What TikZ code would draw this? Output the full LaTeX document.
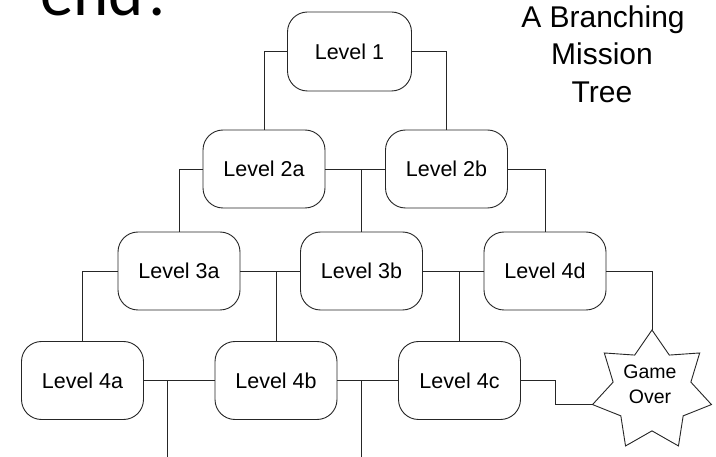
\documentclass[tikz,border=0pt]{standalone}
\usepackage{fontspec}
\setmainfont{Liberation Sans}
\newfontfamily\carlitofont{Carlito}
\usetikzlibrary{shapes.geometric}
\tikzset{
  lvlbox/.style={draw=black!85, line width=0.9pt, rounded corners=20pt, minimum width=122pt, minimum height=78pt, inner sep=0pt, outer sep=0pt, font=\fontsize{21.5}{24}\selectfont},
  conn/.style={draw=black!85, line width=0.9pt},
  starbox/.style={draw=black!85, line width=0.9pt, shape=star, star points=7, star point ratio=1.53, minimum size=122pt, inner sep=0pt, outer sep=0pt},
  titletext/.style={anchor=base, inner sep=0pt, font=\fontsize{30}{37}\selectfont},
}
\begin{document}
\begin{tikzpicture}[x=1pt,y=-1pt]
\useasboundingbox (0,0) rectangle (716,457);
\clip (0,0) rectangle (716,457);
\fill[white] (0,0) rectangle (716,457);

% cut-off heading
\node[anchor=base west, inner sep=0pt, font=\carlitofont\fontsize{67}{67}\selectfont] (endq) at (40,16) {end?};

% title
\node[titletext] (t1) at (603,28) {A Branching};
\node[titletext] (t2) at (602,65) {Mission};
\node[titletext] (t3) at (602,103) {Tree};

% level boxes
\node[lvlbox, minimum width=124pt, minimum height=79pt] (l1) at (349.5,51.5) {Level 1};
\node[lvlbox] (l2a) at (264,169) {Level 2a};
\node[lvlbox] (l2b) at (446.5,169) {Level 2b};
\node[lvlbox] (l3a) at (179,271) {Level 3a};
\node[lvlbox] (l3b) at (361.5,271) {Level 3b};
\node[lvlbox] (l4d) at (545,271) {Level 4d};
\node[lvlbox] (l4a) at (82.5,380.5) {Level 4a};
\node[lvlbox] (l4b) at (276,380.5) {Level 4b};
\node[lvlbox] (l4c) at (459.5,380.5) {Level 4c};

% game over star
\node[starbox] (go) at (652,391) {};
\node[inner sep=0pt, align=center, font=\fontsize{19.5}{25}\selectfont] (gotext) at (650,384) {Game\\Over};

% free ends at bottom
\coordinate (b1) at (167,460);
\coordinate (b2) at (361,460);

% connectors
\draw[conn] (l1.west) -| (l2a.north);
\draw[conn] (l1.east) -| (l2b.north);
\draw[conn] (l2a.west) -| (l3a.north);
\draw[conn] (l2a.east) -- (l2b.west);
\draw[conn] (l3b.north) -- (l3b.north |- l2a.east);
\draw[conn] (l2b.east) -| (l4d.north);
\draw[conn] (l3a.west) -| (l4a.north);
\draw[conn] (l3a.east) -- (l3b.west);
\draw[conn] (l4b.north) -- (l4b.north |- l3a.east);
\draw[conn] (l3b.east) -- (l4d.west);
\draw[conn] (l4c.north) -- (l4c.north |- l3b.east);
\draw[conn] (l4d.east) -| (go.outer point 1);
\draw[conn] (l4a.east) -- (l4b.west);
\draw[conn] (b1) -- (b1 |- l4a.east);
\draw[conn] (l4b.east) -- (l4c.west);
\draw[conn] (b2) -- (b2 |- l4b.east);
\draw[conn] (l4c.east) -- ++(35,0) |- (go.outer point 3);
\end{tikzpicture}
\end{document}
